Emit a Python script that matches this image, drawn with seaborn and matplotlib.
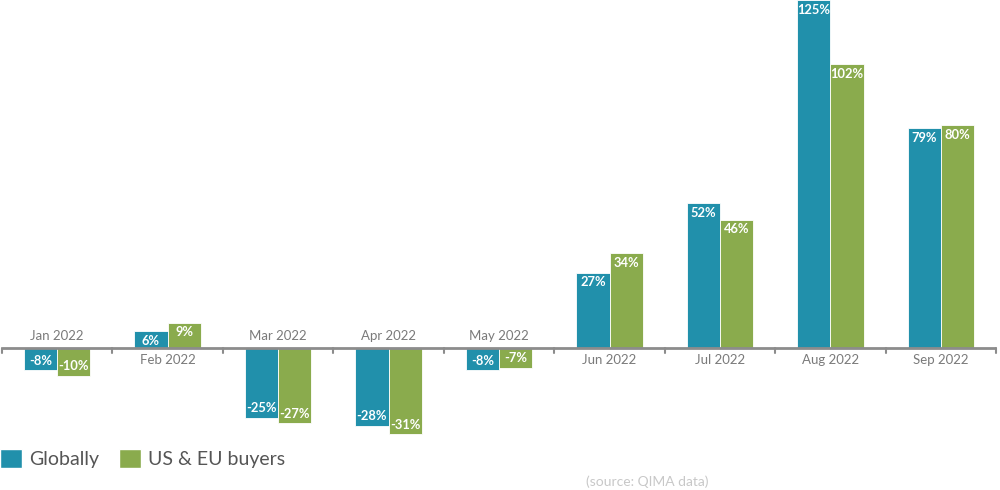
import matplotlib
matplotlib.use("Agg")
import matplotlib.pyplot as plt
import seaborn as sns
import pandas as pd
from matplotlib.patches import Patch

months = ["Jan 2022", "Feb 2022", "Mar 2022", "Apr 2022", "May 2022",
          "Jun 2022", "Jul 2022", "Aug 2022", "Sep 2022"]
globally = [-8, 6, -25, -28, -8, 27, 52, 125, 79]
us_eu = [-10, 9, -27, -31, -7, 34, 46, 102, 80]
series_names = ["Globally", "US & EU buyers"]
colors = ["#2190ab", "#8aab4d"]

df = pd.DataFrame({
    "month": months * 2,
    "value": globally + us_eu,
    "series": [series_names[0]] * len(months) + [series_names[1]] * len(months),
})

sns.set_theme(style="white")
plt.rcParams['font.family'] = ['Lato', 'DejaVu Sans']

fig = plt.figure(figsize=(10, 4.9), dpi=100)
ax = fig.add_axes([0, 0, 1, 1])
sns.barplot(data=df, x="month", y="value", hue="series", order=months,
            hue_order=series_names, palette=colors, width=0.6, ax=ax,
            saturation=1, edgecolor="white", linewidth=0.6, legend=False)

ax.set_ylim(-51, 125)
ax.set_xlim(-0.516, 8.534)
for s in ax.spines.values():
    s.set_visible(False)
ax.set_xticks([])
ax.set_yticks([])
ax.set_xlabel("")
ax.set_ylabel("")

# axis line and boundary ticks
ax.plot([-0.5, 8.5], [0, 0], color="#8c8c8c", lw=2, zorder=1, solid_capstyle="butt")
for b in range(10):
    ax.plot([b - 0.5, b - 0.5], [0, -1.8], color="#8c8c8c", lw=1.5, zorder=1)

# value labels inside bar ends
px_per_unit = 348 / 125.0
off = 9.5 / px_per_unit
for container in ax.containers:
    for bar in container:
        h = bar.get_height()
        x = bar.get_x() + bar.get_width() / 2
        y = h - off if h > 0 else h + off
        ax.text(x, y, f"{int(round(h))}%", ha="center", va="center",
                color="white", fontsize=9.3, fontweight="bold", zorder=5)

# category labels opposite side of bars
for i, m in enumerate(months):
    neg = globally[i] < 0 and us_eu[i] < 0
    if neg:
        ax.text(i, 12 / px_per_unit, m, ha="center", va="center",
                color="#7a7a7a", fontsize=9.5)
    else:
        ax.text(i, -12 / px_per_unit, m, ha="center", va="center",
                color="#7a7a7a", fontsize=9.5)

handles = [Patch(facecolor=c, edgecolor="white", label=n) for c, n in zip(colors, series_names)]
fig.legend(handles=handles, loc="lower left", bbox_to_anchor=(0.0, 0.045), ncol=2,
           frameon=False, fontsize=14, handlelength=1.15, handleheight=1.15,
           handletextpad=0.35, columnspacing=1.0, labelcolor="#555555",
           borderpad=0, borderaxespad=0)

fig.text(0.647, 0.016, "(source: QIMA data)", ha="center", va="center",
         color="#c8c8c8", fontsize=10)

fig.savefig("out.png", dpi=100)
